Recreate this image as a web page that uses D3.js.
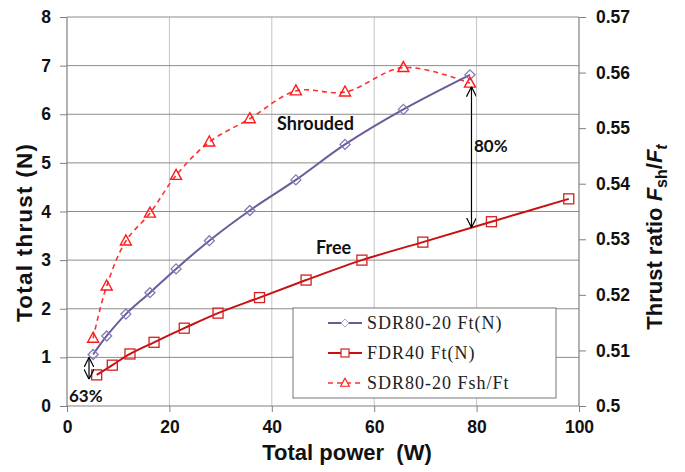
<!DOCTYPE html>
<html><head><meta charset="utf-8">
<script src="https://cdn.jsdelivr.net/npm/d3@7"></script>
<style>body{margin:0;background:#fff}svg{display:block}</style>
</head><body>
<svg id="c" width="685" height="472"></svg>
<script>
// Data
const sdrPower = [5.1, 7.75, 11.5, 16.2, 21.3, 27.8, 35.7, 44.7, 54.3, 65.7, 78.7];
const sdrThrust = [1.06, 1.44, 1.89, 2.33, 2.82, 3.40, 4.02, 4.65, 5.38, 6.10, 6.81];
const fdrPower = [5.8, 8.85, 12.3, 17.0, 22.9, 29.5, 37.6, 46.7, 57.6, 69.5, 82.9, 98.0];
const fdrThrust = [0.64, 0.84, 1.07, 1.31, 1.60, 1.91, 2.23, 2.59, 3.00, 3.37, 3.79, 4.26];
const ratioValues = [0.5122, 0.5216, 0.5297, 0.5347, 0.5415, 0.5475, 0.5517, 0.5567, 0.5565, 0.5609, 0.5581];
const xTicks = [0, 20, 40, 60, 80, 100];
const yTicks = [0, 1, 2, 3, 4, 5, 6, 7, 8];
const rTicks = [0.5, 0.51, 0.52, 0.53, 0.54, 0.55, 0.56, 0.57];
const legendLabels = ["SDR80-20 Ft(N)", "FDR40 Ft(N)", "SDR80-20 Fsh/Ft"];

const svg = d3.select("#c");
const L = 67, R = 579, T = 17, B = 406;
const x = d3.scaleLinear().domain([0, 100]).range([L, R]);
const y = d3.scaleLinear().domain([0, 8]).range([B, T]);
const yr = d3.scaleLinear().domain([0.5, 0.57]).range([B, T]);

const tickFont = "'Liberation Sans', Arial, sans-serif";

// gridlines
const g = svg.append("g");
g.selectAll("line.v").data(xTicks.slice(1, -1)).join("line")
  .attr("x1", d => x(d)).attr("x2", d => x(d)).attr("y1", T).attr("y2", B)
  .attr("stroke", "#c4c4c4").attr("stroke-width", 1);
g.selectAll("line.h").data(yTicks.slice(1)).join("line")
  .attr("x1", L).attr("x2", R).attr("y1", d => y(d)).attr("y2", d => y(d))
  .attr("stroke", "#8c8c8c").attr("stroke-width", 1);

// axes
const axL = svg.append("g").attr("transform", `translate(${L},0)`)
  .call(d3.axisLeft(y).tickValues(yTicks).tickSize(7).tickPadding(9).tickFormat(d3.format("d")));
const axB = svg.append("g").attr("transform", `translate(0,${B})`)
  .call(d3.axisBottom(x).tickValues(xTicks).tickSize(6).tickPadding(9).tickFormat(d3.format("d")));
const axR = svg.append("g").attr("transform", `translate(${R},0)`)
  .call(d3.axisRight(yr).tickValues(rTicks).tickSize(7).tickPadding(10).tickFormat(d => d3.format("")(+d.toFixed(2))));
[axL, axB, axR].forEach(a => {
  a.select(".domain").attr("stroke", "#808080").attr("stroke-width", 1.2);
  a.selectAll(".tick line").attr("stroke", "#808080");
  a.selectAll("text").attr("font-family", tickFont).attr("font-weight", "bold")
    .attr("font-size", 17.5).attr("fill", "#111");
});
axB.select(".domain").attr("d", `M${L},0H${R}`);
axL.select(".domain").attr("d", `M0,${T}V${B}`);
axR.select(".domain").attr("d", `M0,${T}V${B}`);

// axis titles
svg.append("text").attr("transform", `translate(31.5,233) rotate(-90)`)
  .attr("text-anchor", "middle").attr("font-family", tickFont).attr("font-weight", "bold")
  .attr("font-size", 22.5).attr("fill", "#111").attr("textLength", 178).attr("lengthAdjust", "spacing")
  .text("Total thrust (N)");
svg.append("text").attr("x", 347).attr("y", 460)
  .attr("text-anchor", "middle").attr("font-family", tickFont).attr("font-weight", "bold")
  .attr("font-size", 22).attr("fill", "#111").attr("xml:space", "preserve").style("white-space", "pre")
  .text("Total power  (W)");
const rt = svg.append("text").attr("transform", `translate(662,237) rotate(-90)`)
  .attr("text-anchor", "middle").attr("font-family", tickFont).attr("font-weight", "bold")
  .attr("font-size", 22).attr("fill", "#111");
rt.append("tspan").text("Thrust ratio ");
rt.append("tspan").attr("font-style", "italic").text("F");
rt.append("tspan").attr("font-size", 16).attr("dy", 5).text("sh");
rt.append("tspan").attr("dy", -5).text("/");
rt.append("tspan").attr("font-style", "italic").text("F");
rt.append("tspan").attr("font-size", 16).attr("font-style", "italic").attr("dy", 5).text("t");

// series
const curve = d3.curveCatmullRom.alpha(0.5);
const sdr = sdrPower.map((p, i) => [p, sdrThrust[i]]);
const fdr = fdrPower.map((p, i) => [p, fdrThrust[i]]);
const rat = sdrPower.map((p, i) => [p, ratioValues[i]]);

const cPurple = "#6b5b9a", cPurpleM = "#8478b4", cRed = "#c81010", cRedM = "#d42020", cDash = "#ff3030";

svg.append("path").datum(rat).attr("fill", "none").attr("stroke", cDash).attr("stroke-width", 1.6)
  .attr("stroke-dasharray", "5,4")
  .attr("d", d3.line().x(d => x(d[0])).y(d => yr(d[1])).curve(curve));
svg.append("path").datum(fdr).attr("fill", "none").attr("stroke", cRed).attr("stroke-width", 2)
  .attr("d", d3.line().x(d => x(d[0])).y(d => y(d[1])).curve(curve));
svg.append("path").datum(sdr).attr("fill", "none").attr("stroke", cPurple).attr("stroke-width", 2)
  .attr("d", d3.line().x(d => x(d[0])).y(d => y(d[1])).curve(curve));

const diamond = "M0,-5L5,0L0,5L-5,0Z";
svg.append("g").selectAll("path").data(sdr).join("path")
  .attr("transform", d => `translate(${x(d[0])},${y(d[1])})`)
  .attr("d", diamond).attr("fill", "none").attr("stroke", cPurpleM).attr("stroke-width", 1.3);
svg.append("g").selectAll("rect").data(fdr).join("rect")
  .attr("x", d => x(d[0]) - 5).attr("y", d => y(d[1]) - 5).attr("width", 10).attr("height", 10)
  .attr("fill", "none").attr("stroke", cRedM).attr("stroke-width", 1.3);
const tri = "M0,-6L5.5,4L-5.5,4Z";
svg.append("g").selectAll("path").data(rat).join("path")
  .attr("transform", d => `translate(${x(d[0])},${yr(d[1])})`)
  .attr("d", tri).attr("fill", "none").attr("stroke", "#ff1a1a").attr("stroke-width", 1.4);

// annotations
const defs = svg.append("defs");
defs.append("marker").attr("id", "ah").attr("viewBox", "0 0 10 10").attr("refX", 10).attr("refY", 5)
  .attr("markerWidth", 10).attr("markerHeight", 10).attr("markerUnits", "userSpaceOnUse").attr("orient", "auto-start-reverse")
  .append("path").attr("d", "M0,0L10,5L0,10").attr("fill", "none").attr("stroke", "#000").attr("stroke-width", 1.2);
const ann = svg.append("g");
ann.append("line").attr("x1", x(79.0)).attr("x2", x(79.0)).attr("y1", yr(0.5580) + 3).attr("y2", y(3.67))
  .attr("stroke", "#000").attr("stroke-width", 1.2).attr("marker-start", "url(#ah)").attr("marker-end", "url(#ah)");
ann.append("line").attr("x1", x(4.3)).attr("x2", x(4.3)).attr("y1", y(1.0)).attr("y2", y(0.55))
  .attr("stroke", "#000").attr("stroke-width", 1.2).attr("marker-start", "url(#ah)").attr("marker-end", "url(#ah)");
const annFont = "Lato, 'Open Sans', sans-serif";
ann.append("text").attr("x", 474).attr("y", 152).attr("font-family", annFont).attr("font-weight", "bold")
  .attr("font-size", 17).attr("fill", "#111").text("80%");
ann.append("text").attr("x", 69).attr("y", 402).attr("font-family", annFont).attr("font-weight", "bold")
  .attr("font-size", 17).attr("fill", "#111").text("63%");
ann.append("text").attr("x", 277).attr("y", 130).attr("font-family", annFont).attr("font-weight", "bold")
  .attr("font-size", 18).attr("fill", "#111").text("Shrouded");
ann.append("text").attr("x", 316).attr("y", 254).attr("font-family", annFont).attr("font-weight", "bold")
  .attr("font-size", 18).attr("fill", "#111").text("Free");

// legend
const lg = svg.append("g");
lg.append("rect").attr("x", 293).attr("y", 308).attr("width", 263).attr("height", 90)
  .attr("fill", "#fff").attr("stroke", "#777").attr("stroke-width", 1);
const rows = [323, 353, 383];
const legFont = "'Liberation Serif', 'DejaVu Serif', serif";
lg.append("line").attr("x1", 328).attr("x2", 362).attr("y1", rows[0]).attr("y2", rows[0]).attr("stroke", cPurple).attr("stroke-width", 2);
lg.append("path").attr("transform", `translate(345,${rows[0]}) scale(0.8)`).attr("d", diamond).attr("fill", "#fff").attr("stroke", "#a8a0c8").attr("stroke-width", 1.2);
lg.append("line").attr("x1", 328).attr("x2", 362).attr("y1", rows[1]).attr("y2", rows[1]).attr("stroke", cRed).attr("stroke-width", 2);
lg.append("rect").attr("x", 341).attr("y", rows[1] - 4).attr("width", 8).attr("height", 8).attr("fill", "#fff").attr("stroke", cRedM).attr("stroke-width", 1.2);
lg.append("line").attr("x1", 328).attr("x2", 362).attr("y1", rows[2]).attr("y2", rows[2]).attr("stroke", cDash).attr("stroke-width", 1.6).attr("stroke-dasharray", "5,4");
lg.append("path").attr("transform", `translate(345,${rows[2]}) scale(0.8)`).attr("d", tri).attr("fill", "#fff").attr("stroke", "#ff1a1a").attr("stroke-width", 1.4);
lg.selectAll("text.l").data(legendLabels).join("text")
  .attr("x", 367).attr("y", (d, i) => rows[i] + 6).attr("font-family", legFont)
  .attr("font-size", 18).attr("letter-spacing", 1).attr("fill", "#222").text(d => d);
</script>
</body></html>
